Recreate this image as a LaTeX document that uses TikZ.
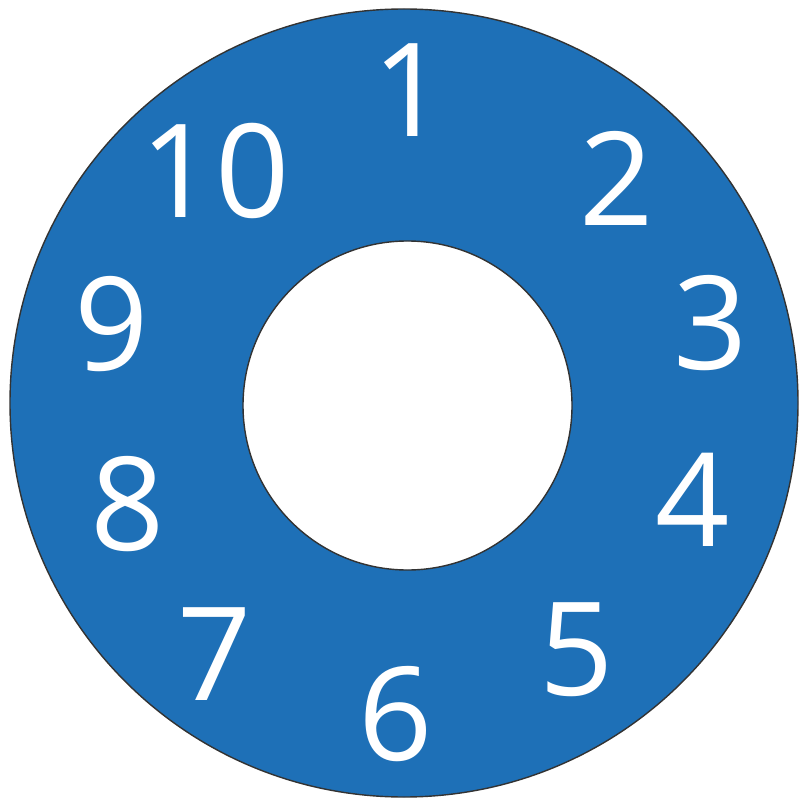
\documentclass[tikz,border=0pt]{standalone}
\usepackage{xcolor}
\usepackage{fontspec}
\setmainfont{Open Sans}
\usepackage{tikz}
\definecolor{ringblue}{RGB}{30,112,183}
\tikzset{
  digit/.style={text=white, inner sep=0pt, anchor=center, font=\fontsize{37}{40}\selectfont},
}

\begin{document}
\begin{tikzpicture}
\useasboundingbox (0,0) rectangle (7.99,-8.00);
\coordinate (oc) at (4.04,-4.03);
\coordinate (ic) at (4.075,-4.055);
\fill[ringblue, even odd rule] (oc) circle (3.94) (ic) circle (1.645);
\draw[line width=0.4pt, black!80] (oc) circle (3.94);
\draw[line width=0.4pt, black!80] (ic) circle (1.645);
\node[digit] (n1) at (4.10,-0.90) {1};
\node[digit] (n2) at (6.17,-1.78) {2};
\node[digit] (n3) at (7.11,-3.23) {3};
\node[digit] (n4) at (6.93,-5.00) {4};
\node[digit] (n5) at (5.77,-6.50) {5};
\node[digit] (n6) at (3.96,-7.14) {6};
\node[digit] (n7) at (2.15,-6.54) {7};
\node[digit] (n8) at (1.28,-5.04) {8};
\node[digit] (n9) at (1.12,-3.24) {9};
\node[digit] (n10) at (2.15,-1.71) {10};
\end{tikzpicture}
\end{document}
